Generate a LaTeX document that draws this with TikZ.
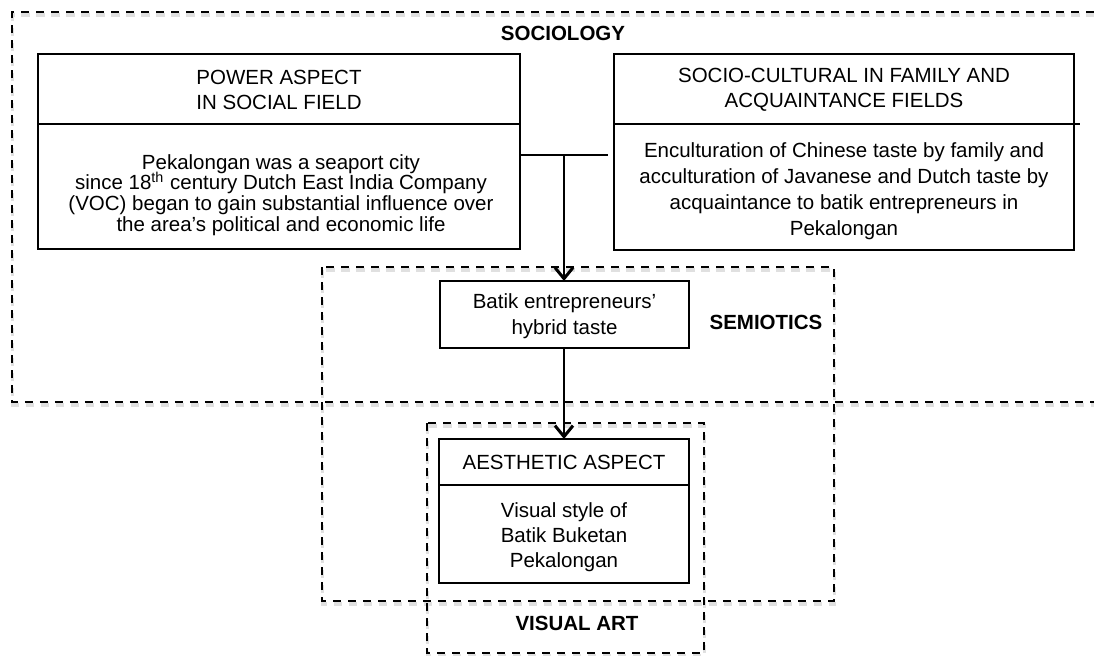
\documentclass[tikz,border=0pt]{standalone}
\usepackage{fontspec}
\setmainfont{Liberation Sans}
\usetikzlibrary{arrows.meta}

% let lines with superscripts keep the regular baseline spacing
\newcommand\tightlines{\lineskiplimit -20pt\relax\lineskip 0pt\relax}

\tikzset{
  x=0.5pt, y=-0.5pt,
  panel/.style={draw, line width=0.9pt, inner sep=0pt, outer sep=0pt},
  txt/.style={align=center, inner sep=0pt, font=\fontsize{10.25pt}{12.5pt}\selectfont},
  tag/.style={inner sep=0pt, font=\fontsize{10.25pt}{12.5pt}\selectfont\bfseries},
  zone/.style={line width=0.9pt, dash pattern=on 4.2pt off 3.3pt,
    preaction={draw=black!12, line width=1.6pt, dash pattern=on 4.2pt off 3.3pt,
      transform canvas={shift={(0.4pt,-1.5pt)}}}},
  conn/.style={line width=0.65pt},
  tip/.style={-{Straight Barb[length=5.5pt,width=9pt,line width=1.5pt]}}
}

\begin{document}
\begin{tikzpicture}
\useasboundingbox (0,0) rectangle (1094,655);

% field frames
\draw[zone] (1094,12) -- (12,12) -- (12,402) -- (1094,402);
\draw[zone] (322,267) rectangle (834,601);
\draw[zone] (427,423) rectangle (704,653);

\node[tag] (soc) at (563,33) {SOCIOLOGY};
\node[tag] (sem) at (766,322) {SEMIOTICS};
\node[tag] (vis) at (577,623) {VISUAL ART};

% power aspect
\node[panel, minimum width=241pt, minimum height=35pt] (ltitle) at (279,89) {};
\node[panel, minimum width=241pt, minimum height=62.5pt] (lbody) at (279,186.5) {};
\node[txt] (ltitlet) at (279,89.5) {POWER ASPECT\\IN SOCIAL FIELD};
\node[txt, font=\fontsize{10.25pt}{10.4pt}\selectfont\tightlines] (lbodyt) at (281,195)
  {Pekalongan was a seaport city\\
   since 18\textsuperscript{th} century Dutch East India Company\\
   (VOC) began to gain substantial influence over\\
   the area’s political and economic life};

% socio-cultural
\node[panel, minimum width=230pt, minimum height=35pt] (rtitle) at (844,89) {};
\node[panel, minimum width=230pt, minimum height=63pt] (rbody) at (844,187) {};
\draw[panel] (rtitle.south east) -- ++(6,0);
\node[txt] (rtitlet) at (844,89.5) {SOCIO-CULTURAL IN FAMILY AND\\ACQUAINTANCE FIELDS};
\node[txt, font=\fontsize{10.25pt}{12.9pt}\selectfont] (rbodyt) at (844,191)
  {Enculturation of Chinese taste by family and\\
   acculturation of Javanese and Dutch taste by\\
   acquaintance to batik entrepreneurs in\\
   Pekalongan};

% hybrid taste
\node[panel, minimum width=124.5pt, minimum height=33.5pt] (batik) at (564.5,314.5) {};
\node[txt, font=\fontsize{10.25pt}{13pt}\selectfont] (batikt) at (564.5,316)
  {Batik entrepreneurs’\\hybrid taste};

% aesthetic aspect
\node[panel, minimum width=125pt, minimum height=23pt] (atitle) at (564,462) {};
\node[panel, minimum width=125pt, minimum height=49pt] (abody) at (564,534) {};
\node[txt] (atitlet) at (564,462) {AESTHETIC ASPECT};
\node[txt] (abodyt) at (564,537) {Visual style of\\Batik Buketan\\Pekalongan};

% connectors
\coordinate (join) at (564,155);
\coordinate (jend) at (608,155);
\draw[conn] (lbody.east |- join) -- (jend);
\draw[conn, tip] (join) -- (join |- batik.north);
\draw[conn, tip] (batik.south -| join) -- (join |- atitle.north);
\end{tikzpicture}
\end{document}
